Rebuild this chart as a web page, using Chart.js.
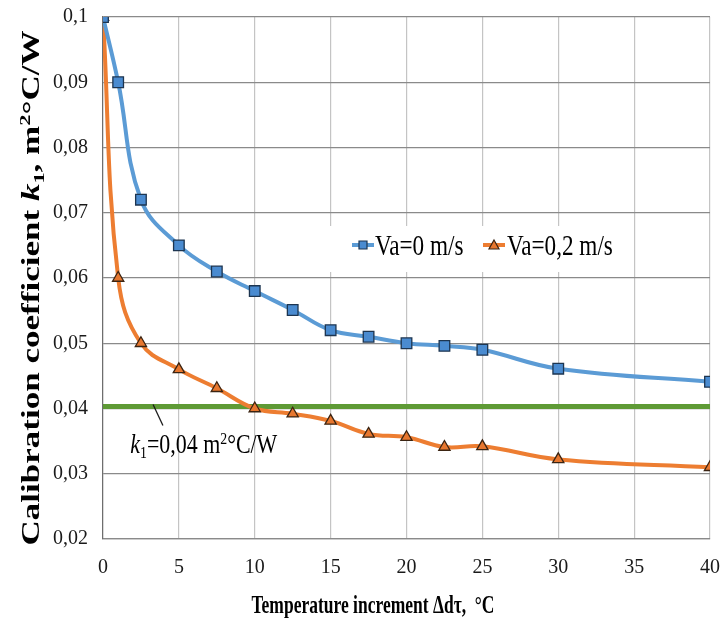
<!DOCTYPE html>
<html>
<head>
<meta charset="utf-8">
<script src="https://cdn.jsdelivr.net/npm/chart.js@4.4.1/dist/chart.umd.min.js"></script>
<style>
  html, body { margin: 0; padding: 0; background: #fff; }
  #wrap { width: 723px; height: 625px; }
</style>
</head>
<body>
<div id="wrap"><canvas id="k1Chart" width="723" height="625"></canvas></div>
<script>
/* ---------- data ---------- */
const tempIncrement = [0, 1, 2.5, 5, 7.5, 10, 12.5, 15, 17.5, 20, 22.5, 25, 30, 40];
const kVa0  = [0.1, 0.09, 0.072, 0.065, 0.061, 0.058, 0.0551, 0.052, 0.051, 0.050, 0.0496, 0.049, 0.0461, 0.0441];
const kVa02 = [0.1, 0.060, 0.050, 0.046, 0.0431, 0.040, 0.0392, 0.0381, 0.0361, 0.0356, 0.0341, 0.0342, 0.0322, 0.031];
const k1Limit = 0.0403;          // green reference line (k1 = 0,04)
const limitSpan = [0, 40];
const seriesNames = ["Va=0 m/s", "Va=0,2 m/s"];

const SERIF = "'Liberation Serif', 'DejaVu Serif', serif";
const SQUEEZE = 0.8;             // the reference text is squeezed horizontally

const toPoints = (xs, ys) => xs.map((x, i) => ({ x, y: ys[i] }));
const fmtComma = v => String(Math.round(v * 100) / 100).replace(".", ",");

/* draw a run of text parts [{t, style, dy, scale}] */
function partsWidth(ctx, parts, size) {
    let w = 0;
    parts.forEach(p => {
        ctx.font = `${p.style || ""} ${Math.round(size * (p.scale || 1))}px ${SERIF}`;
        w += ctx.measureText(p.t).width;
    });
    return w;
}
function drawParts(ctx, parts, size) {
    let x = 0;
    parts.forEach(p => {
        ctx.font = `${p.style || ""} ${Math.round(size * (p.scale || 1))}px ${SERIF}`;
        ctx.fillText(p.t, x, (p.dy || 0) * size);
        x += ctx.measureText(p.t).width;
    });
}

/* ---------- custom texts, legend, annotation ---------- */
const decorations = {
    id: "decorations",
    afterDraw(chart) {
        const ctx = chart.ctx;
        const area = chart.chartArea;
        const xs = chart.scales.x, ys = chart.scales.y;
        ctx.save();
        ctx.fillStyle = "#000";
        ctx.textBaseline = "alphabetic";
        ctx.textAlign = "left";

        // y axis title
        const yParts = [
            { t: "Calibration coefficient ", style: "bold" },
            { t: "k", style: "italic bold" },
            { t: "1", style: "bold", scale: 0.65, dy: 0.22 },
            { t: ", m", style: "bold" },
            { t: "2", style: "bold", scale: 0.65, dy: -0.35 },
            { t: "°C/W", style: "bold" }
        ];
        const ySize = 33;
        const yw = partsWidth(ctx, yParts, ySize);
        ctx.save();
        ctx.translate(39, 288);
        ctx.rotate(-Math.PI / 2);
        ctx.scale(515 / yw, 0.74);
        ctx.translate(-yw / 2, 0);
        drawParts(ctx, yParts, ySize);
        ctx.restore();

        // x axis title
        const xParts = [{ t: "Temperature increment \u0394d\u03c4,  \u00b0C", style: "bold" }];
        const xSize = 26;
        const xw = partsWidth(ctx, xParts, xSize);
        ctx.save();
        ctx.translate(373, 613);
        ctx.scale(243 / xw, 1);
        ctx.translate(-xw / 2, 0);
        drawParts(ctx, xParts, xSize);
        ctx.restore();

        // annotation for the limit line
        ctx.strokeStyle = "#1a1a1a";
        ctx.lineWidth = 1.3;
        ctx.beginPath();
        ctx.moveTo(xs.getPixelForValue(3.3), ys.getPixelForValue(k1Limit) - 2);
        ctx.lineTo(xs.getPixelForValue(3.95), ys.getPixelForValue(0.0374));
        ctx.stroke();
        const aParts = [
            { t: "k", style: "italic" },
            { t: "1", scale: 0.62, dy: 0.2 },
            { t: "=0,04 m" },
            { t: "2", scale: 0.62, dy: -0.33 },
            { t: "°C/W" }
        ];
        const aSize = 27;
        const aw = partsWidth(ctx, aParts, aSize);
        ctx.save();
        ctx.translate(xs.getPixelForValue(1.8), ys.getPixelForValue(0.0332));
        ctx.scale(147 / aw, 1);
        drawParts(ctx, aParts, aSize);
        ctx.restore();

        // legend box inside the plot
        const lx = area.left + 227, ly = area.top + 209, lw = 303, lh = 46;
        ctx.fillStyle = "#fff";
        ctx.fillRect(lx, ly, lw, lh);
        const legendSize = 29;
        const items = [
            { ds: chart.data.datasets[0], lineX: lx + 22, textX: lx + 45 },
            { ds: chart.data.datasets[1], lineX: lx + 153, textX: lx + 177 }
        ];
        const cy = ly + 19;
        items.forEach((it, i) => {
            const ds = it.ds;
            ctx.strokeStyle = ds.borderColor;
            ctx.lineWidth = 4;
            ctx.beginPath();
            ctx.moveTo(it.lineX, cy);
            ctx.lineTo(it.lineX + 22, cy);
            ctx.stroke();
            ctx.fillStyle = ds.pointBackgroundColor;
            ctx.strokeStyle = ds.pointBorderColor;
            ctx.lineWidth = 1.2;
            const mx = it.lineX + 11;
            ctx.beginPath();
            if (ds.pointStyle === "rect") {
                ctx.rect(mx - 4, cy - 4, 8, 8);
            } else {
                ctx.moveTo(mx, cy - 5);
                ctx.lineTo(mx + 5, cy + 4);
                ctx.lineTo(mx - 5, cy + 4);
                ctx.closePath();
            }
            ctx.fill();
            ctx.stroke();
            ctx.fillStyle = "#000";
            ctx.font = `${legendSize}px ${SERIF}`;
            ctx.save();
            ctx.translate(it.textX, cy + 10);
            ctx.scale(SQUEEZE, 1);
            ctx.fillText(seriesNames[i], 0, 0);
            ctx.restore();
        });

        ctx.restore();
    }
};

/* ---------- chart ---------- */
const ctx = document.getElementById("k1Chart").getContext("2d");

new Chart(ctx, {
    type: "scatter",
    data: {
        datasets: [
            {
                label: seriesNames[0],
                data: toPoints(tempIncrement, kVa0),
                showLine: true,
                borderColor: "#5b9bd5",
                borderWidth: 4,
                tension: 0.4,
                pointStyle: "rect",
                pointRadius: 7.5,
                pointHoverRadius: 7.5,
                pointBackgroundColor: "#4a8bd0",
                pointBorderColor: "#1d3550",
                pointBorderWidth: 1.3,
                order: 1
            },
            {
                label: seriesNames[1],
                data: toPoints(tempIncrement, kVa02),
                showLine: true,
                borderColor: "#ed7d31",
                borderWidth: 4,
                tension: 0.4,
                pointStyle: "triangle",
                pointRadius: 6.5,
                pointHoverRadius: 6.5,
                pointBackgroundColor: "#e7772f",
                pointBorderColor: "#3b2412",
                pointBorderWidth: 1.3,
                order: 2
            },
            {
                label: "k1",
                data: toPoints(limitSpan, [k1Limit, k1Limit]),
                showLine: true,
                borderColor: "#5e9a35",
                borderWidth: 5,
                pointRadius: 0,
                order: 3
            }
        ]
    },
    options: {
        responsive: false,
        animation: false,
        layout: { padding: { top: 17, right: 13, bottom: 0, left: 0 } },
        plugins: {
            legend: { display: false },
            tooltip: { enabled: false }
        },
        scales: {
            x: {
                type: "linear",
                min: 0,
                max: 40,
                afterFit: s => {
                    s.height = 86;
                    s.paddingLeft = 0;
                    s.paddingRight = 0;
                },
                ticks: {
                    stepSize: 5,
                    padding: 17,
                    color: "#1a1a1a",
                    font: { family: SERIF, size: 20 }
                },
                grid: { color: "#c4c4c4", lineWidth: 1.2, drawTicks: false },
                border: { color: "#8a8a8a", width: 1.2 }
            },
            y: {
                min: 0.02,
                max: 0.1,
                afterFit: s => {
                    s.width = 103;
                    s.paddingTop = 0;
                    s.paddingBottom = 0;
                },
                ticks: {
                    stepSize: 0.01,
                    padding: 15,
                    color: "#1a1a1a",
                    font: { family: SERIF, size: 20 },
                    callback: v => fmtComma(v)
                },
                grid: { color: "#8a8a8a", lineWidth: 1.2, drawTicks: false },
                border: { color: "#6e6e6e", width: 1.2 }
            }
        }
    },
    plugins: [decorations]
});
</script>
</body>
</html>
